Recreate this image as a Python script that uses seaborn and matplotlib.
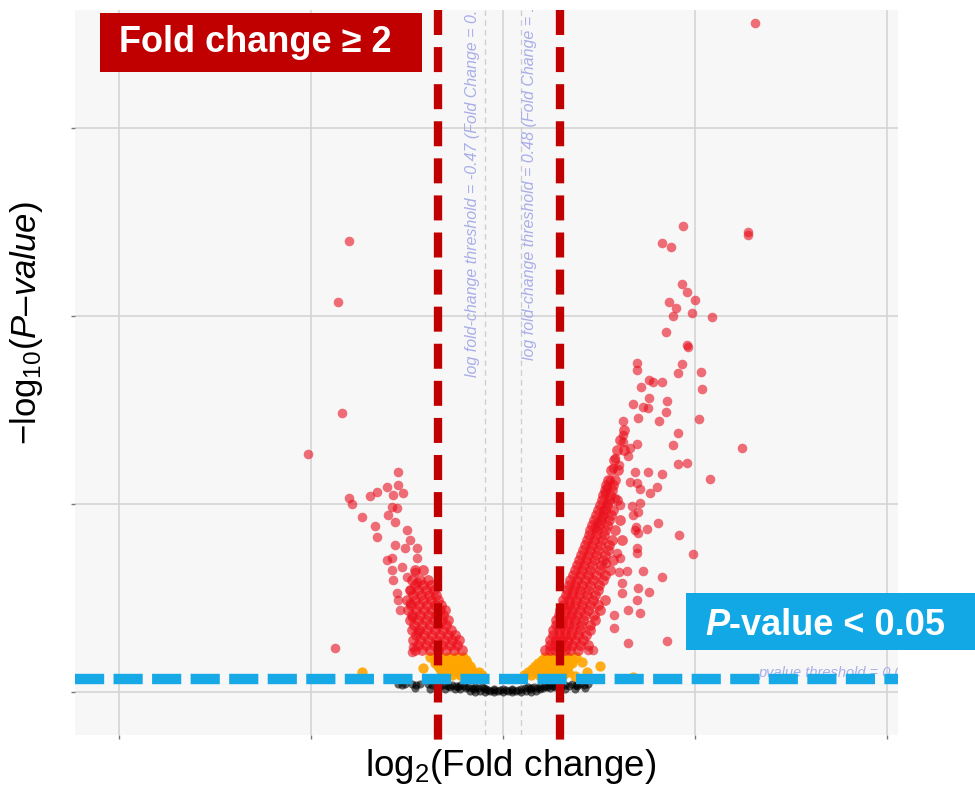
import matplotlib
matplotlib.use("Agg")
import numpy as np
import pandas as pd
import matplotlib.pyplot as plt
import seaborn as sns
from matplotlib.patches import Rectangle
from matplotlib.text import Annotation

# ---------------- data (log2 fold change, -log10 p) ----------------
red_x = [
    6.56, -4.01, -4.30, -4.19, -5.08, -4.38,
    4.69, 4.14, 4.38, 6.38, 6.38, 4.66, 4.79, 5.00, 4.32, 4.51, 4.92, 4.43, 5.44, 4.24,
    4.79, 4.82, 3.49, 3.49, 4.66, 4.56, 5.16, 3.80, 3.91, 4.14, 3.59, 5.18, 3.80, 4.27,
    3.39, 3.65, 3.78, 4.24, 3.13, 3.52, 4.06, 5.10, 3.13, 3.13, 4.56, 4.43, 3.49, 3.31,
    6.22, 3.26, 2.92, 3.02, 2.86, 4.56, 4.79, 3.44, 3.78, 4.14, 5.39, 2.79, 2.71, 3.31,
    3.49, 3.57, 4.01, 3.83, 2.66, 2.92, 3.05, 2.71, 2.60, 3.36, 3.57, 3.52, 3.39, 4.04,
    2.58, 2.45, 2.40, 3.46, 3.75, 4.95, 4.58, 4.14, 3.65, 3.80, 3.52, 3.49, 3.57, 3.26,
    3.10, 3.10, 3.02, 3.23, 2.97, 3.05, 3.49, 3.49, 3.44, 3.52, 2.68, 2.89, 3.26, 4.27,
    2.89, 2.34, 2.21,
    -2.73, -2.73, -3.02, -3.28, -3.46, -4.01, -3.93, -2.86, -2.60, -2.76, -2.89, -3.67,
    -2.99, -2.81, -3.33, -3.28, -2.50, -2.81, -2.55, -2.24, -2.42, -3.02, -2.89, -2.24,
    -2.63, -2.89, -2.50, -2.29, -2.86, -2.24, -2.42, -2.76, -2.73, -2.42, -2.68, -2.37,
    -2.21, -2.34, -2.37,
]
red_y = [
    17.79, 11.99, 10.37, 7.42, 6.33, 1.17,
    12.39, 11.94, 11.84, 12.23, 12.15, 10.85, 10.64, 10.43, 10.37, 10.21, 10.08, 10.00, 9.97, 9.57,
    9.23, 9.18, 8.75, 8.56, 8.72, 8.48, 8.51, 8.30, 8.24, 8.24, 8.11, 8.06, 7.82, 7.74,
    7.66, 7.58, 7.55, 7.45, 7.21, 7.29, 7.21, 7.26, 6.84, 6.65, 6.89, 6.57, 6.60, 6.49,
    6.49, 6.28, 6.22, 6.04, 5.96, 6.06, 6.09, 5.85, 5.85, 5.80, 5.66, 5.64, 5.45, 5.59,
    5.56, 5.40, 5.45, 5.29, 5.29, 5.16, 4.97, 5.03, 4.84, 4.95, 5.03, 4.79, 4.71, 4.49,
    4.65, 4.49, 4.36, 4.39, 4.34, 3.67, 4.18, 3.06, 3.22, 2.66, 2.77, 2.45, 2.10, 2.18,
    2.90, 2.63, 3.19, 3.22, 3.70, 3.56, 3.83, 3.70, 4.31, 4.23, 3.43, 2.05, 1.30, 1.36,
    1.70, 1.12, 1.12,
    5.85, 5.51, 5.45, 5.32, 5.21, 5.16, 5.00, 5.24, 5.29, 4.89, 4.92, 4.65,
    4.71, 4.52, 4.41, 4.12, 4.31, 3.91, 3.83, 3.83, 4.04, 3.51, 3.56, 3.56,
    3.32, 3.24, 3.06, 3.19, 2.98, 2.93, 2.71, 2.63, 2.45, 2.37, 2.18, 1.99,
    1.60, 1.20, 1.06,
]

# dense red bands next to the fold-change lines
band_x = [
    1.09, 1.22, 1.35, 1.48, 1.61, 1.74, 1.95,
    1.22, 1.35, 1.48, 1.64, 1.80, 2.01, 2.21,
    1.22, 1.38, 1.54, 1.69, 1.88, 2.08,
    1.30, 1.46, 1.61, 1.77, 1.95, 2.16,
    1.30, 1.46, 1.61, 1.80, 2.01, 2.27,
    1.38, 1.54, 1.69, 1.85, 2.03, 2.27,
    1.38, 1.54, 1.69, 1.88, 2.08, 2.40,
    1.46, 1.61, 1.77, 1.93, 2.14, 2.37,
    1.48, 1.64, 1.80, 2.01, 2.21, 2.53,
    1.56, 1.72, 1.88, 2.06, 2.27, 2.47,
    1.56, 1.72, 1.90, 2.11, 2.34, 2.66,
    1.64, 1.80, 1.98, 2.19, 2.40,
    1.67, 1.82, 2.01, 2.21, 2.47,
    1.72, 1.88, 2.06, 2.27, 2.50,
    1.74, 1.93, 2.14, 2.34, 2.60,
    1.82, 2.01, 2.21, 2.42, 2.66,
    1.88, 2.06, 2.27, 2.53, 2.79,
    1.93, 2.11, 2.32, 2.55,
    1.98, 2.16, 2.37, 2.60, 2.86,
    2.03, 2.21, 2.42, 2.66,
    2.08, 2.27, 2.47, 2.73,
    2.14, 2.32, 2.53, 2.76,
    2.19, 2.37, 2.58, 2.84, 3.10,
    2.24, 2.42, 2.63,
    2.27, 2.45, 2.66, 2.92,
    2.32, 2.50, 2.71,
    2.37, 2.55, 2.76, 3.05,
    2.42, 2.60, 2.81,
    2.47, 2.66, 2.86,
    2.53, 2.71,
    2.58, 2.76, 2.97,
    2.60, 2.79,
    2.66, 2.84,
    2.68, 2.86,
    2.73, 2.92,
    2.81, 2.99,
    2.89,
    2.97, 3.15,
    3.05,
    3.15,
    -2.29, -2.11, -1.90, -1.69, -1.48, -1.28, -1.07,
    -2.21, -2.01, -1.80, -1.59, -1.38, -1.20,
    -2.34, -2.16, -1.95, -1.74, -1.54, -1.33, -1.15,
    -2.27, -2.06, -1.85, -1.64, -1.43, -1.25,
    -2.37, -2.19, -1.98, -1.77, -1.56, -1.35,
    -2.32, -2.11, -1.90, -1.69, -1.48,
    -2.42, -2.21, -2.01, -1.80, -1.59, -1.43,
    -2.37, -2.16, -1.95, -1.74, -1.56,
    -2.47, -2.27, -2.06, -1.85, -1.64, -1.51,
    -2.40, -2.19, -1.98, -1.77, -1.61,
    -2.50, -2.29, -2.08, -1.88, -1.69,
    -2.34, -2.14, -1.93, -1.74,
    -2.42, -2.21, -2.01, -1.80,
    -2.29, -2.08, -1.88,
    -2.37, -2.16, -1.95,
    -2.29, -2.08,
]
band_y = [
    1.12, 1.12, 1.12, 1.12, 1.12, 1.12, 1.12,
    1.25, 1.25, 1.25, 1.25, 1.25, 1.25, 1.25,
    1.38, 1.38, 1.38, 1.38, 1.38, 1.38,
    1.52, 1.52, 1.52, 1.52, 1.52, 1.52,
    1.65, 1.65, 1.65, 1.65, 1.65, 1.65,
    1.78, 1.78, 1.78, 1.78, 1.78, 1.78,
    1.91, 1.91, 1.91, 1.91, 1.91, 1.91,
    2.05, 2.05, 2.05, 2.05, 2.05, 2.05,
    2.18, 2.18, 2.18, 2.18, 2.18, 2.18,
    2.31, 2.31, 2.31, 2.31, 2.31, 2.31,
    2.45, 2.45, 2.45, 2.45, 2.45, 2.45,
    2.58, 2.58, 2.58, 2.58, 2.58,
    2.71, 2.71, 2.71, 2.71, 2.71,
    2.85, 2.85, 2.85, 2.85, 2.85,
    2.98, 2.98, 2.98, 2.98, 2.98,
    3.11, 3.11, 3.11, 3.11, 3.11,
    3.24, 3.24, 3.24, 3.24, 3.24,
    3.38, 3.38, 3.38, 3.38,
    3.51, 3.51, 3.51, 3.51, 3.51,
    3.64, 3.64, 3.64, 3.64,
    3.78, 3.78, 3.78, 3.78,
    3.91, 3.91, 3.91, 3.91,
    4.04, 4.04, 4.04, 4.04, 4.04,
    4.18, 4.18, 4.18,
    4.31, 4.31, 4.31, 4.31,
    4.44, 4.44, 4.44,
    4.57, 4.57, 4.57, 4.57,
    4.71, 4.71, 4.71,
    4.84, 4.84, 4.84,
    4.97, 4.97,
    5.11, 5.11, 5.11,
    5.24, 5.24,
    5.37, 5.37,
    5.51, 5.51,
    5.64, 5.64,
    5.90, 5.90,
    6.17,
    6.44, 6.44,
    6.70,
    6.97,
    1.12, 1.12, 1.12, 1.12, 1.12, 1.12, 1.12,
    1.25, 1.25, 1.25, 1.25, 1.25, 1.25,
    1.38, 1.38, 1.38, 1.38, 1.38, 1.38, 1.38,
    1.52, 1.52, 1.52, 1.52, 1.52, 1.52,
    1.65, 1.65, 1.65, 1.65, 1.65, 1.65,
    1.78, 1.78, 1.78, 1.78, 1.78,
    1.91, 1.91, 1.91, 1.91, 1.91, 1.91,
    2.05, 2.05, 2.05, 2.05, 2.05,
    2.18, 2.18, 2.18, 2.18, 2.18, 2.18,
    2.31, 2.31, 2.31, 2.31, 2.31,
    2.45, 2.45, 2.45, 2.45, 2.45,
    2.58, 2.58, 2.58, 2.58,
    2.71, 2.71, 2.71, 2.71,
    2.85, 2.85, 2.85,
    2.98, 2.98, 2.98,
    3.24, 3.24,
]

orange_x = [
    -1.90, -1.64, -1.43, -1.22, -1.04,
    -1.77, -1.54, -1.33, -1.12, -0.96,
    -1.77, -1.56, -1.35, -1.15, -0.94,
    -1.69, -1.48, -1.28, -1.07, -0.86,
    -1.64, -1.46, -1.25, -1.04, -0.83,
    -1.59, -1.38, -1.17, -0.96, -0.76, -0.63,
    -1.51, -1.33, -1.12, -0.91, -0.70, -0.55,
    1.09, 1.28, 1.48, 1.69, 1.90,
    1.02, 1.20, 1.38, 1.59, 1.80,
    0.91, 1.12, 1.33, 1.54, 1.80,
    0.83, 1.04, 1.25, 1.46, 1.69,
    0.76, 0.96, 1.17, 1.38, 1.64,
    0.65, 0.86, 1.07, 1.28, 1.48, 1.69,
    0.55, 0.73, 0.94, 1.15, 1.35, 1.56,
    2.06, 2.53, 3.39, -3.67, -2.08, 2.19, 1.88,
]
orange_y = [
    0.93, 0.93, 0.93, 0.93, 0.93,
    0.85, 0.85, 0.85, 0.85, 0.85,
    0.77, 0.77, 0.77, 0.77, 0.77,
    0.69, 0.69, 0.69, 0.69, 0.69,
    0.61, 0.61, 0.61, 0.61, 0.61,
    0.53, 0.53, 0.53, 0.53, 0.53, 0.53,
    0.45, 0.45, 0.45, 0.45, 0.45, 0.45,
    0.93, 0.93, 0.93, 0.93, 0.93,
    0.85, 0.85, 0.85, 0.85, 0.85,
    0.77, 0.77, 0.77, 0.77, 0.77,
    0.69, 0.69, 0.69, 0.69, 0.69,
    0.61, 0.61, 0.61, 0.61, 0.61,
    0.53, 0.53, 0.53, 0.53, 0.53, 0.53,
    0.45, 0.45, 0.45, 0.45, 0.45, 0.45,
    0.80, 0.69, 0.40, 0.53, 0.64, 0.53, 0.43,
]

black_x = [
    -2.73, -2.55, -2.37, -2.16, -1.95, -1.74, 1.80, 2.01, 2.21,
    -2.63, -2.27, -1.85, -1.54, -1.33, -1.12, 1.20, 1.41, 1.61, 1.90, 2.11,
    -1.64, -1.43, -1.22, -1.02, 1.09, 1.30, 1.51, 1.72, 1.93,
    -1.38, -1.17, -0.91, -0.73, -0.55, 0.65, 0.81, 0.96, 1.15, 1.35,
    -0.96, -0.81, -0.65, -0.49, 0.57, 0.73, 0.89, 1.04, 1.22,
    -0.75, -0.44, -0.23, 0.00, 0.23, 0.47, 0.70,
    -0.39, -0.23, -0.08, 0.08, 0.23, 0.39,
    -0.86, -0.60, -0.34, -0.13, 0.13, 0.34, 0.60, 0.86,
    -0.73, -0.47, -0.23, 0.00, 0.23, 0.47, 0.73,
    -1.51, -1.25, -1.12, 0.96, 1.48, 1.61,
    -2.29, -1.90, 1.88, 2.14,
]
black_y = [
    0.21, 0.21, 0.21, 0.21, 0.21, 0.21, 0.21, 0.21, 0.21,
    0.19, 0.19, 0.19, 0.19, 0.19, 0.19, 0.19, 0.19, 0.19, 0.19, 0.19,
    0.16, 0.16, 0.16, 0.16, 0.16, 0.16, 0.16, 0.16, 0.16,
    0.13, 0.13, 0.13, 0.13, 0.13, 0.13, 0.13, 0.13, 0.13, 0.13,
    0.11, 0.11, 0.11, 0.11, 0.11, 0.11, 0.11, 0.11, 0.11,
    0.08, 0.08, 0.08, 0.08, 0.08, 0.08, 0.08,
    0.05, 0.05, 0.05, 0.05, 0.05, 0.05,
    0.03, 0.03, 0.03, 0.03, 0.03, 0.03, 0.03, 0.03,
    0.00, 0.00, 0.00, 0.00, 0.00, 0.00, 0.00,
    0.08, 0.08, 0.08, 0.08, 0.08, 0.08,
    0.11, 0.08, 0.08, 0.11,
]

fc_thresholds = [-0.47, 0.48]
fc_labels = ["log fold-change threshold = -0.47 (Fold Change = 0.72)",
             "log fold-change threshold = 0.48 (Fold Change = 1.39)"]
fold_change_lines = [-1.69, 1.48]
pvalue_line = 0.36
x_ticks = [-10, -5, 0, 5, 10]
y_ticks = [0, 5, 10, 15]

# ---------------- style ----------------
sns.set_theme(style="whitegrid")
plt.rcParams['font.family'] = ['Liberation Sans', 'DejaVu Sans']
plt.rcParams['mathtext.fontset'] = 'custom'
plt.rcParams['mathtext.rm'] = 'Liberation Sans'
plt.rcParams['mathtext.it'] = 'Liberation Sans:italic'
plt.rcParams['mathtext.bf'] = 'Liberation Sans:bold'

W, H = 975, 793
fig = plt.figure(figsize=(W / 100, H / 100), dpi=100)
fig.patch.set_facecolor("white")
ax = fig.add_axes([75 / W, 1 - 735 / H, 823 / W, 725 / H])
ax.set_facecolor("#f7f7f7")

df = pd.concat([
    pd.DataFrame({"log2FC": black_x, "nlog10P": black_y, "group": "NS"}),
    pd.DataFrame({"log2FC": orange_x, "nlog10P": orange_y, "group": "P"}),
    pd.DataFrame({"log2FC": band_x, "nlog10P": band_y, "group": "FC_P_band"}),
    pd.DataFrame({"log2FC": red_x, "nlog10P": red_y, "group": "FC_P"}),
], ignore_index=True)

styles = {"NS": ("black", 0.6, 34), "P": ("#ffa500", 0.9, 55),
          "FC_P_band": ("#ee0f1a", 0.65, 60), "FC_P": ("#e8101e", 0.6, 48)}
for grp, (col, alp, size) in styles.items():
    sns.scatterplot(data=df[df["group"] == grp], x="log2FC", y="nlog10P", color=col,
                    alpha=alp, s=size, linewidth=0, ax=ax, legend=False, zorder=3)

ax.set_xlim(-11.15, 10.29)
ax.set_ylim(-1.14, 18.14)
ax.set_xticks(x_ticks)
ax.set_yticks(y_ticks)
ax.tick_params(axis="both", length=3, width=1, color="#777777",
               left=True, bottom=True, labelleft=False, labelbottom=False)
for s in ax.spines.values():
    s.set_visible(False)
ax.grid(True, color="#d5d5d5", lw=1.2)
ax.set_axisbelow(True)

# threshold guides
for xv in fc_thresholds:
    ax.axvline(xv, color="#cfcfcf", lw=1, ls=(0, (4, 3)), zorder=1)
ax.text(-0.80, 8.38, fc_labels[0], rotation=90, ha="center", va="bottom",
        fontsize=11.5, style="italic", color="#a9aee8", clip_on=True, zorder=2)
ax.text(0.70, 8.83, fc_labels[1], rotation=90, ha="center", va="bottom",
        fontsize=11.5, style="italic", color="#a9aee8", clip_on=True, zorder=2)
ax.text(6.64, 0.5, "pvalue threshold = 0.05", ha="left", va="center",
        fontsize=10.5, style="italic", color="#a9aee8", clip_on=True, zorder=2)

# fold-change lines
for xv in fold_change_lines:
    ax.plot([xv, xv], [18.14, -1.28], color="#c00000", lw=6, dashes=(3.0, 1.45),
            clip_on=False, zorder=5, dash_capstyle="butt")
# p-value line
ax.plot([-11.15, 10.29], [pvalue_line, pvalue_line], color="#16a9e6", lw=7.5,
        dashes=(2.8, 0.9), zorder=6, dash_capstyle="butt", clip_on=False)

# labels
ax.set_xlabel("log$_{2}$(Fold change)", fontsize=26.5, color="black")
ax.xaxis.set_label_coords(0.529, -0.016)
ax.set_ylabel("$\\mathregular{-log_{10}}\\mathit{(P\u2013value)}$", fontsize=25, color="black")
ax.yaxis.set_label_coords(-0.036, 0.568)

# annotation boxes
fig.add_artist(Rectangle((100 / W, 1 - 72 / H), 322 / W, 59 / H, transform=fig.transFigure,
                         facecolor="#c00000", edgecolor="none", zorder=10))
fig.text(255 / W, 1 - 43 / H, "Fold change \u2265 2", color="white", fontsize=26,
         weight="bold", ha="center", va="center", zorder=11)

fig.add_artist(Rectangle((686 / W, 1 - 650 / H), (975 - 686) / W, 57 / H, transform=fig.transFigure,
                         facecolor="#12a8e6", edgecolor="none", zorder=10))
t1 = fig.text(705 / W, 1 - 635 / H, "P", color="white", fontsize=26, weight="bold",
              style="italic", ha="left", va="baseline", zorder=11)
fig.add_artist(Annotation("-value < 0.05", xy=(1, 0), xycoords=t1,
                          va="bottom", ha="left", color="white",
                          fontsize=26, weight="bold", zorder=11))

fig.savefig("out.png", dpi=100)
